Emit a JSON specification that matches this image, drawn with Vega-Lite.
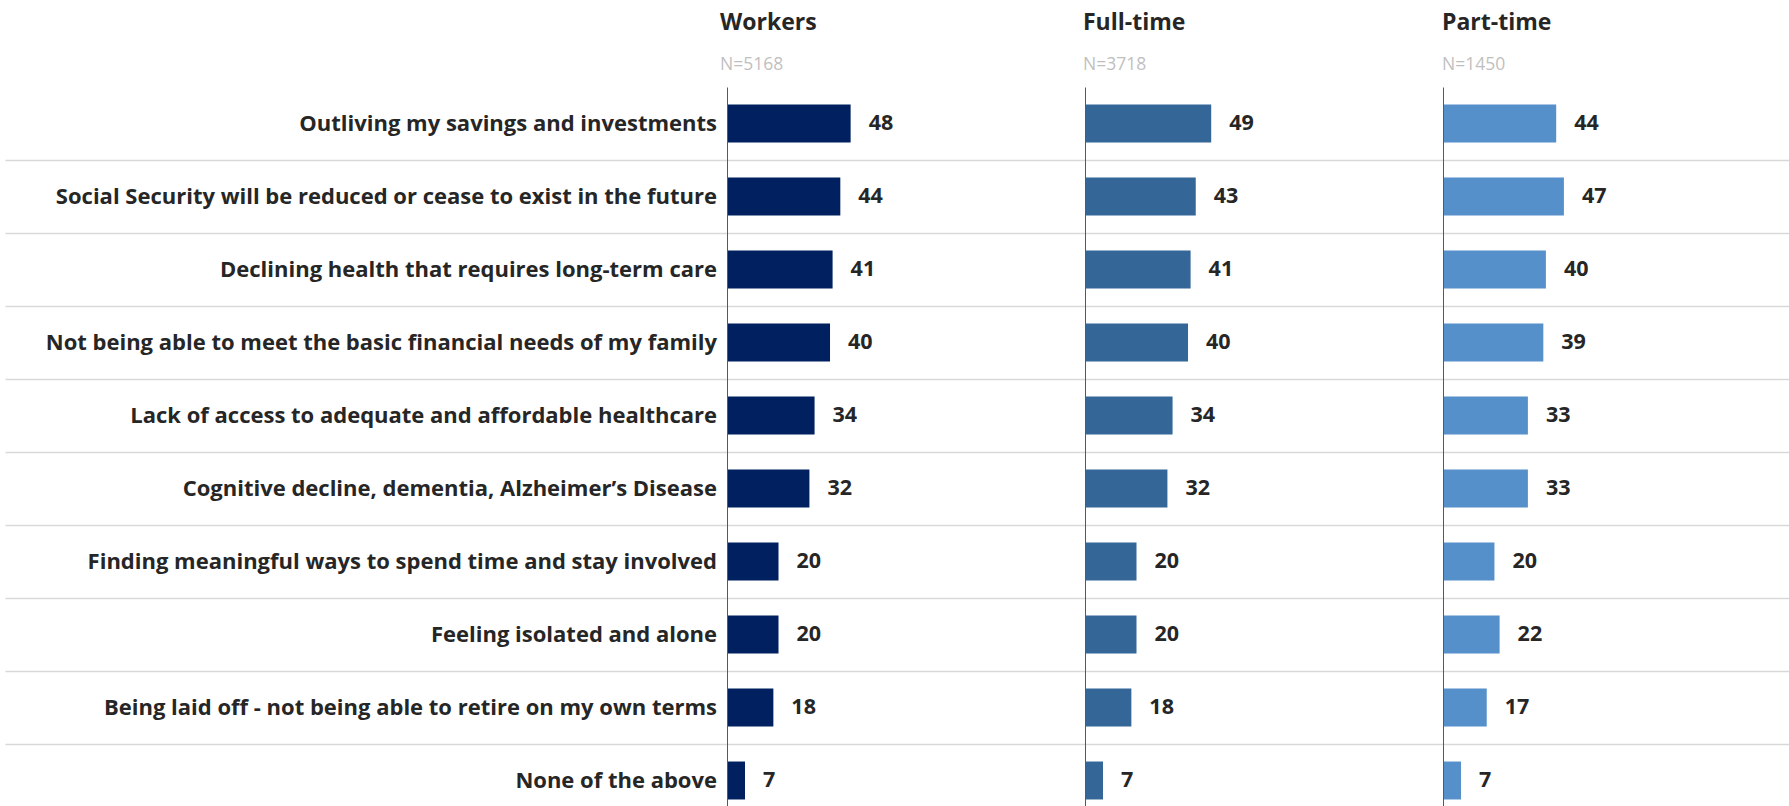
{
  "$schema": "https://vega.github.io/schema/vega-lite/v6.json",
  "padding": {"left": 5, "top": 11, "right": 0, "bottom": 0},
  "background": "white",
  "spacing": 0,
  "bounds": "flush",
  "config": {"view": {"stroke": null}, "font": "Open Sans"},
  "data": {"values": [
    {"concern": "Outliving my savings and investments", "group": "Workers", "value": 48},
    {"concern": "Social Security will be reduced or cease to exist in the future", "group": "Workers", "value": 44},
    {"concern": "Declining health that requires long-term care", "group": "Workers", "value": 41},
    {"concern": "Not being able to meet the basic financial needs of my family", "group": "Workers", "value": 40},
    {"concern": "Lack of access to adequate and affordable healthcare", "group": "Workers", "value": 34},
    {"concern": "Cognitive decline, dementia, Alzheimer’s Disease", "group": "Workers", "value": 32},
    {"concern": "Finding meaningful ways to spend time and stay involved", "group": "Workers", "value": 20},
    {"concern": "Feeling isolated and alone", "group": "Workers", "value": 20},
    {"concern": "Being laid off - not being able to retire on my own terms", "group": "Workers", "value": 18},
    {"concern": "None of the above", "group": "Workers", "value": 7},
    {"concern": "Outliving my savings and investments", "group": "Full-time", "value": 49},
    {"concern": "Social Security will be reduced or cease to exist in the future", "group": "Full-time", "value": 43},
    {"concern": "Declining health that requires long-term care", "group": "Full-time", "value": 41},
    {"concern": "Not being able to meet the basic financial needs of my family", "group": "Full-time", "value": 40},
    {"concern": "Lack of access to adequate and affordable healthcare", "group": "Full-time", "value": 34},
    {"concern": "Cognitive decline, dementia, Alzheimer’s Disease", "group": "Full-time", "value": 32},
    {"concern": "Finding meaningful ways to spend time and stay involved", "group": "Full-time", "value": 20},
    {"concern": "Feeling isolated and alone", "group": "Full-time", "value": 20},
    {"concern": "Being laid off - not being able to retire on my own terms", "group": "Full-time", "value": 18},
    {"concern": "None of the above", "group": "Full-time", "value": 7},
    {"concern": "Outliving my savings and investments", "group": "Part-time", "value": 44},
    {"concern": "Social Security will be reduced or cease to exist in the future", "group": "Part-time", "value": 47},
    {"concern": "Declining health that requires long-term care", "group": "Part-time", "value": 40},
    {"concern": "Not being able to meet the basic financial needs of my family", "group": "Part-time", "value": 39},
    {"concern": "Lack of access to adequate and affordable healthcare", "group": "Part-time", "value": 33},
    {"concern": "Cognitive decline, dementia, Alzheimer’s Disease", "group": "Part-time", "value": 33},
    {"concern": "Finding meaningful ways to spend time and stay involved", "group": "Part-time", "value": 20},
    {"concern": "Feeling isolated and alone", "group": "Part-time", "value": 22},
    {"concern": "Being laid off - not being able to retire on my own terms", "group": "Part-time", "value": 17},
    {"concern": "None of the above", "group": "Part-time", "value": 7}
  ]},
  "hconcat": [
    {
      "width": 722, "height": 730,
      "transform": [{"filter": "datum.group === 'Workers'"}],
      "mark": {"type": "text", "align": "right", "baseline": "middle", "dx": -10, "fontSize": 22, "fontWeight": "bold", "color": "#262626"},
      "encoding": {
        "y": {"field": "concern", "type": "nominal", "sort": null,
              "scale": {"type": "band", "paddingInner": 0, "paddingOuter": 0},
              "axis": {"labels": false, "ticks": false, "domain": false, "title": null, "grid": true, "tickBand": "extent", "gridColor": "#d9d9d9", "gridWidth": 1.5,
                       "gridOpacity": {"condition": {"test": "!isValid(datum.value)", "value": 0}, "value": 1}}},
        "x": {"datum": 1, "type": "quantitative", "scale": {"domain": [0, 1]}, "axis": null},
        "text": {"field": "concern"}
      }
    },
    {
      "width": 358, "height": 730,
      "title": {"text": "Workers", "subtitle": "N=5168", "anchor": "start", "dx": -7, "fontSize": 23, "fontWeight": "bold", "color": "#262626", "subtitleColor": "#bfbfbf", "subtitleFontSize": 17.5, "subtitleFont": "Open Sans", "subtitlePadding": 21, "offset": 14},
      "transform": [{"filter": "datum.group === 'Workers'"}],
      "encoding": {
        "y": {"field": "concern", "type": "nominal", "sort": null,
              "scale": {"type": "band", "paddingInner": 0, "paddingOuter": 0},
              "axis": {"labels": false, "ticks": false, "domain": true, "domainColor": "#595959", "domainWidth": 1, "zindex": 1, "title": null, "grid": true, "tickBand": "extent", "gridColor": "#d9d9d9", "gridWidth": 1.5,
                       "gridOpacity": {"condition": {"test": "!isValid(datum.value)", "value": 0}, "value": 1}}},
        "x": {"field": "value", "type": "quantitative", "scale": {"domain": [0, 139]}, "axis": null}
      },
      "layer": [
        {"mark": {"type": "bar", "color": "#00205f", "height": {"band": 0.52}}},
        {"mark": {"type": "text", "align": "left", "baseline": "middle", "dx": 18, "fontSize": 21.5, "fontWeight": "bold", "color": "#262626"},
         "encoding": {"text": {"field": "value", "type": "quantitative"}}}
      ]
    },
    {
      "width": 358, "height": 730,
      "title": {"text": "Full-time", "subtitle": "N=3718", "anchor": "start", "dx": -2, "fontSize": 23, "fontWeight": "bold", "color": "#262626", "subtitleColor": "#bfbfbf", "subtitleFontSize": 17.5, "subtitleFont": "Open Sans", "subtitlePadding": 21, "offset": 14},
      "transform": [{"filter": "datum.group === 'Full-time'"}],
      "encoding": {
        "y": {"field": "concern", "type": "nominal", "sort": null,
              "scale": {"type": "band", "paddingInner": 0, "paddingOuter": 0},
              "axis": {"labels": false, "ticks": false, "domain": true, "domainColor": "#595959", "domainWidth": 1, "zindex": 1, "title": null, "grid": true, "tickBand": "extent", "gridColor": "#d9d9d9", "gridWidth": 1.5,
                       "gridOpacity": {"condition": {"test": "!isValid(datum.value)", "value": 0}, "value": 1}}},
        "x": {"field": "value", "type": "quantitative", "scale": {"domain": [0, 139]}, "axis": null}
      },
      "layer": [
        {"mark": {"type": "bar", "color": "#346798", "height": {"band": 0.52}}},
        {"mark": {"type": "text", "align": "left", "baseline": "middle", "dx": 18, "fontSize": 21.5, "fontWeight": "bold", "color": "#262626"},
         "encoding": {"text": {"field": "value", "type": "quantitative"}}}
      ]
    },
    {
      "width": 346, "height": 730,
      "title": {"text": "Part-time", "subtitle": "N=1450", "anchor": "start", "dx": -1, "fontSize": 23, "fontWeight": "bold", "color": "#262626", "subtitleColor": "#bfbfbf", "subtitleFontSize": 17.5, "subtitleFont": "Open Sans", "subtitlePadding": 21, "offset": 14},
      "transform": [{"filter": "datum.group === 'Part-time'"}],
      "encoding": {
        "y": {"field": "concern", "type": "nominal", "sort": null,
              "scale": {"type": "band", "paddingInner": 0, "paddingOuter": 0},
              "axis": {"labels": false, "ticks": false, "domain": true, "domainColor": "#595959", "domainWidth": 1, "zindex": 1, "title": null, "grid": true, "tickBand": "extent", "gridColor": "#d9d9d9", "gridWidth": 1.5,
                       "gridOpacity": {"condition": {"test": "!isValid(datum.value)", "value": 0}, "value": 1}}},
        "x": {"field": "value", "type": "quantitative", "scale": {"domain": [0, 134.5]}, "axis": null}
      },
      "layer": [
        {"mark": {"type": "bar", "color": "#5590ca", "height": {"band": 0.52}}},
        {"mark": {"type": "text", "align": "left", "baseline": "middle", "dx": 18, "fontSize": 21.5, "fontWeight": "bold", "color": "#262626"},
         "encoding": {"text": {"field": "value", "type": "quantitative"}}}
      ]
    }
  ]
}
